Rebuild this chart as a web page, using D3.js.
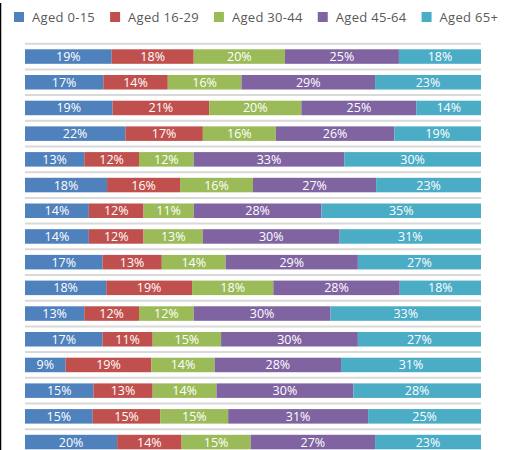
<!DOCTYPE html>
<html><head><meta charset="utf-8">
<script src="https://cdn.jsdelivr.net/npm/d3@7"></script>
<style>body{margin:0;background:#fff;}svg{display:block;}</style>
</head><body>
<svg id="c" width="511" height="450"></svg>
<script>
const series = ["Aged 0-15","Aged 16-29","Aged 30-44","Aged 45-64","Aged 65+"];
const colors = ["#4F81BD","#C0504D","#9BBB59","#8064A2","#4BACC6"];
const rows = ["R1","R2","R3","R4","R5","R6","R7","R8","R9","R10","R11","R12","R13","R14","R15","R16"];
const aged0_15  = [19,17,19,22,13,18,14,14,17,18,13,17,9,15,15,20];
const aged16_29 = [18,14,21,17,12,16,12,12,13,19,12,11,19,13,15,14];
const aged30_44 = [20,16,20,16,12,16,11,13,14,18,12,15,14,14,15,15];
const aged45_64 = [25,29,25,26,33,27,28,30,29,28,30,30,28,30,31,27];
const aged65p   = [18,23,14,19,30,23,35,31,27,18,33,27,31,28,25,23];
const cols = [aged0_15,aged16_29,aged30_44,aged45_64,aged65p];

const svg = d3.select("#c");
const W = 511, H = 450;
const plotL = 25, plotR = 481, plotT = 43.7, band = 25.7;

const table = rows.map((r,i)=>{
  const o = {row:r};
  series.forEach((s,j)=>o[s]=cols[j][i]);
  return o;
});
const y = d3.scaleBand().domain(rows).range([plotT, plotT+band*rows.length]).paddingInner(0.435).paddingOuter(0.2175);
const x = d3.scaleLinear().domain([0,1]).range([plotL, plotR]);
const stack = d3.stack().keys(series).offset(d3.stackOffsetExpand);
const stacked = stack(table);

svg.append("line").attr("x1",0.5).attr("x2",0.5).attr("y1",3).attr("y2",H).attr("stroke","#000").attr("stroke-width",1.5);

const bounds = rows.map((r,i)=>plotT + band*i);
svg.append("g").selectAll("line").data(bounds).join("line")
  .attr("x1",plotL).attr("x2",plotR).attr("y1",d=>d).attr("y2",d=>d)
  .attr("stroke","#d9d9d9").attr("stroke-width",2);

const g = svg.append("g");
stacked.forEach((layer,j)=>{
  const lg = g.append("g");
  lg.selectAll("rect").data(layer).join("rect")
    .attr("x",d=>x(d[0])).attr("width",d=>x(d[1])-x(d[0]))
    .attr("y",d=>y(d.data.row)).attr("height",y.bandwidth())
    .attr("fill",colors[j]);
  lg.selectAll("text").data(layer).join("text")
    .attr("x",d=>(x(d[0])+x(d[1]))/2)
    .attr("y",d=>y(d.data.row)+y.bandwidth()/2)
    .attr("dy","0.36em").attr("text-anchor","middle")
    .attr("fill","#fff").attr("font-family","Open Sans").attr("font-size",12.5)
    .text(d=>d.data[series[j]]+"%");
});

const leg = svg.append("g");
let lx = 14;
series.forEach((s,j)=>{
  leg.append("rect").attr("x",lx).attr("y",12).attr("width",10).attr("height",10).attr("fill",colors[j]);
  const t = leg.append("text").attr("x",lx+18).attr("y",17).attr("dy","0.36em")
    .attr("font-family","Open Sans").attr("font-size",13).attr("letter-spacing",0.3).attr("fill","#595959").text(s);
  const w = t.node().getComputedTextLength();
  lx += 18 + w + 15;
});
</script>
</body></html>
